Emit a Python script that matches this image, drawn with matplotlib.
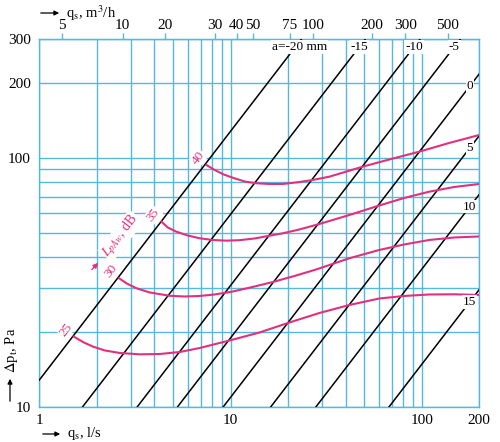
import matplotlib
matplotlib.use("Agg")
import matplotlib.pyplot as plt
import numpy as np

plt.rcParams['font.family'] = ['Liberation Serif', 'DejaVu Serif']
plt.rcParams['mathtext.fontset'] = 'stix'

# ---------------- data ----------------
# straight lines: dp = k * q, labelled by a (mm)
line_labels = ['a=-20 mm', '-15', '-10', '-5', '0', '5', '10', '15']
line_k = [12.8, 5.93, 3.07, 1.89, 1.09, 0.615, 0.357, 0.148]

# sound level curves L_pA (dB): (q l/s, dp Pa)
curve_levels = ['25', '30', '35', '40']
c25_q = [1.517, 1.711, 1.913, 2.203, 2.638, 3.355, 4.266, 5.424, 6.900, 9.89,
         14.19, 20.34, 29.17, 41.84, 60.0, 81.0, 109.4, 147.8, 200]
c25_p = [19.12, 18.12, 17.43, 16.83, 16.44, 16.24, 16.29, 16.59, 17.22, 18.46,
         19.88, 21.81, 23.81, 25.64, 27.23, 27.87, 28.26, 28.31, 28.13]
c30_q = [2.616, 2.869, 3.224, 3.782, 4.810, 5.760, 6.900, 8.260, 10.29, 13.36,
         16.64, 21.61, 28.04, 41.84, 60.0, 81.0, 109.4, 147.8, 200]
c30_p = [32.83, 31.28, 29.93, 28.79, 27.92, 27.74, 27.87, 28.26, 29.05, 30.43,
         31.72, 33.54, 35.62, 39.52, 42.68, 44.90, 46.81, 47.90, 48.35]
c35_q = [4.353, 4.696, 5.21, 5.971, 6.90, 8.065, 9.51, 11.16, 13.36, 18.77,
         22.95, 29.17, 41.84, 60.0, 81.0, 109.4, 147.8, 200]
c35_p = [55.45, 52.55, 50.55, 48.80, 47.55, 46.81, 46.51, 46.72, 47.46, 49.80,
         51.60, 54.28, 58.98, 64.42, 69.05, 73.19, 76.44, 78.60]
c40_q = [7.477, 8.26, 9.204, 10.29, 11.85, 13.64, 16.00, 18.77, 22.40, 26.92,
         32.90, 41.84, 49.1, 67.69, 97.0, 139.2, 200]
c40_p = [93.74, 89.5, 85.85, 83.26, 80.45, 79.13, 78.6, 78.6, 79.86, 81.57,
         84.11, 88.91, 92.26, 98.62, 106.0, 114.9, 123.7]

x_major = [1, 10, 100, 200]
x_minor = [2, 3, 4, 5, 6, 7, 8, 9, 20, 30, 40, 50, 60, 70, 80, 90]
y_major = [10, 100, 200, 300]
y_minor = [20, 30, 40, 50, 60, 70, 80, 90]

top_tick_labels = ['5', '10', '20', '30', '40', '50', '75', '100', '200', '300', '500']
top_tick_pos = [1.309, 2.725, 4.53, 8.26, 10.76, 13.09, 20.42, 27.15, 54.7, 82.0, 137.0]

# ---------------- style ----------------
BLUE = '#55b8dc'
PINK = '#e2307c'

W, H = 500, 442
fig = plt.figure(figsize=(W / 100, H / 100), dpi=100)
L, R, T, B = 39.3, 479.3, 39.3, 406.7
ax = fig.add_axes([L / W, 1 - B / H, (R - L) / W, (B - T) / H])
ax.set_xscale('log')
ax.set_yscale('log')
ax.set_xlim(1, 200)
ax.set_ylim(10, 300)

ax.set_xticks(x_major, labels=[str(v) for v in x_major])
ax.set_xticks(x_minor, minor=True)
ax.set_yticks(y_major, labels=[str(v) for v in y_major])
ax.set_yticks(y_minor, minor=True)
ax.xaxis.set_minor_formatter(plt.NullFormatter())
ax.yaxis.set_minor_formatter(plt.NullFormatter())
ax.tick_params(which='both', length=0, labelsize=11)
ax.tick_params(axis='x', pad=5)
ax.tick_params(axis='y', pad=6)
ax.grid(True, which='both', color=BLUE, lw=1.0)
for s in ax.spines.values():
    s.set_color(BLUE)
    s.set_linewidth(1.0)

sec = ax.secondary_xaxis('top')
sec.set_xticks(top_tick_pos, labels=top_tick_labels)
sec.xaxis.set_minor_locator(plt.NullLocator())
sec.tick_params(length=4, color=BLUE, width=1.0, labelsize=11, pad=1)
sec.spines['top'].set_color(BLUE)

# straight lines
qq = np.array([1.0, 200.0])
for lab, k in zip(line_labels, line_k):
    ax.plot(qq, k * qq, color='black', lw=1.1, zorder=3)

# labels on lines
tb = dict(facecolor='white', edgecolor='none', pad=0.6)
for lab, k in zip(line_labels, line_k):
    if k * 200 > 300:
        q = 280 / k
        if lab.startswith('a='):
            q = 22.9
        ax.text(q, 280, lab, ha='center', va='center', fontsize=9.5, bbox=tb, zorder=5)
    else:
        ax.text(178.5, k * 178.5, lab, ha='center', va='center', fontsize=9.5, bbox=tb, zorder=5)

# sound curves
curves = [(c25_q, c25_p), (c30_q, c30_p), (c35_q, c35_p), (c40_q, c40_p)]
for lev, (cq, cp) in zip(curve_levels, curves):
    ax.plot(cq, cp, color=PINK, lw=1.5, zorder=4, solid_joinstyle='round')
    ax.annotate(lev, xy=(cq[0], cp[0]), xytext=(-8, 7), textcoords='offset pixels',
                ha='center', va='center', rotation=52, rotation_mode='anchor',
                color=PINK, fontsize=9.5, bbox=tb, zorder=6)

ax.text(2.669, 48.6, r'$L_{pAw}$, dB', rotation=52, rotation_mode='anchor',
        ha='center', va='center', color=PINK, fontsize=10, bbox=tb, zorder=6)
ax.annotate('', xy=(2.075, 38.6), xytext=(1.84, 34.9),
            arrowprops=dict(arrowstyle='-|>', color=PINK, lw=1.0, mutation_scale=7), zorder=6)

# axis titles with arrows
def fp(x, y):
    return (x / W, 1 - y / H)

arr = dict(arrowstyle='-|>', color='black', lw=0.9, mutation_scale=7)
fig.add_artist(plt.Annotation('', xy=fp(62, 13), xytext=fp(38, 13),
                              xycoords='figure fraction', arrowprops=arr))
fig.text(*fp(66, 13), r'q$_\mathrm{s}$, m$^3$/h', ha='left', va='center', fontsize=10.5)

fig.add_artist(plt.Annotation('', xy=fp(63, 434), xytext=fp(40, 434),
                              xycoords='figure fraction', arrowprops=arr))
fig.text(*fp(67, 434), r'q$_\mathrm{s}$, l/s', ha='left', va='center', fontsize=10.5)

fig.add_artist(plt.Annotation('', xy=fp(10, 376), xytext=fp(10, 404),
                              xycoords='figure fraction', arrowprops=arr))
fig.text(*fp(11, 350), r'$\Delta$p$_\mathrm{t}$, Pa', ha='center', va='center',
         rotation=90, fontsize=10.5)

fig.savefig('out.png', dpi=100)
